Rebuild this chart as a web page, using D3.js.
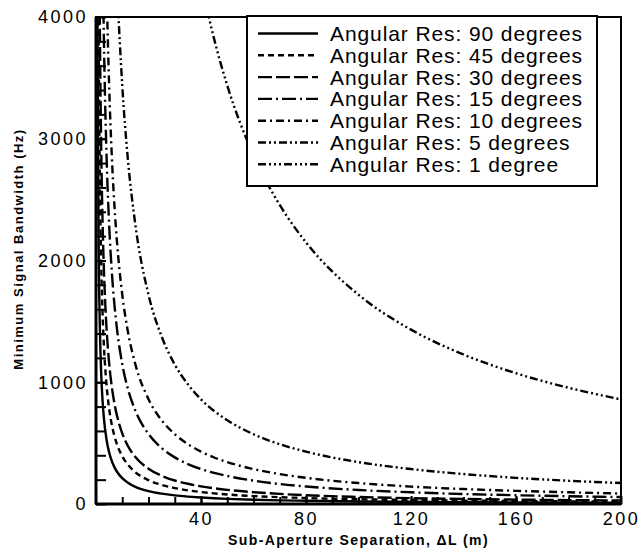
<!DOCTYPE html>
<html lang="en">

<head>
    <meta charset="UTF-8">
    <title>Minimum Signal Bandwidth vs Sub-Aperture Separation</title>
    <script src="https://d3js.org/d3.v7.min.js"></script>
    <style>
        * {
            margin: 0;
            padding: 0;
        }

        body {
            background: #fff;
        }

        svg text {
            font-family: "Liberation Sans", Arial, Helvetica, sans-serif;
        }
    </style>
</head>

<body>
    <script>
        // data (Hz), one array per angular resolution
        var separation = [0.5, 1, 1.25, 1.5, 2, 2.5, 3, 4, 5, 6, 7, 8, 10, 12, 15, 20, 25, 30, 35, 40, 45, 50, 60, 70, 80, 100, 120, 140, 160, 180, 200];
        var labels = ['Angular Res: 90 degrees', 'Angular Res: 45 degrees', 'Angular Res: 30 degrees', 'Angular Res: 15 degrees',
            'Angular Res: 10 degrees', 'Angular Res: 5 degrees', 'Angular Res: 1 degree'];
        var res90 = [4242, 2121, 1697, 1414, 1061, 848, 707, 530, 424, 354, 303, 265, 212, 177, 141, 106, 85, 71, 61, 53, 47, 42, 35, 30, 27, 21, 18, 15, 13, 12, 11];
        var res45 = [7840, 3920, 3136, 2613, 1960, 1568, 1307, 980, 784, 653, 560, 490, 392, 327, 261, 196, 157, 131, 112, 98, 87, 78, 65, 56, 49, 39, 33, 28, 25, 22, 20];
        var res30 = [11592, 5796, 4637, 3864, 2898, 2318, 1932, 1449, 1159, 966, 828, 725, 580, 483, 386, 290, 232, 193, 166, 145, 129, 116, 97, 83, 72, 58, 48, 41, 36, 32, 29];
        var res15 = [22984, 11492, 9194, 7661, 5746, 4597, 3831, 2873, 2298, 1915, 1642, 1437, 1149, 958, 766, 575, 460, 383, 328, 287, 255, 230, 192, 164, 144, 115, 96, 82, 72, 64, 57];
        var res10 = [34420, 17210, 13768, 11473, 8605, 6884, 5737, 4303, 3442, 2868, 2459, 2151, 1721, 1434, 1147, 861, 688, 574, 492, 430, 382, 344, 287, 246, 215, 172, 143, 123, 108, 96, 86];
        var res5 = [68778, 34389, 27511, 22926, 17195, 13756, 11463, 8597, 6878, 5732, 4913, 4299, 3439, 2866, 2293, 1719, 1376, 1146, 983, 860, 764, 688, 573, 491, 430, 344, 287, 246, 215, 191, 172];
        var res1 = [343780, 171890, 137512, 114593, 85945, 68756, 57297, 42973, 34378, 28648, 24556, 21486, 17189, 14324, 11459, 8595, 6876, 5730, 4911, 4297, 3820, 3438, 2865, 2456, 2149, 1719, 1432, 1228, 1074, 955, 859];
        var series = [res90, res45, res30, res15, res10, res5, res1];
        var xTicks = [40, 80, 120, 160, 200];
        var yTicks = [0, 1000, 2000, 3000, 4000];

        // dash pattern for each curve
        var dashes = ['none', '6,4', '14,4', '14,4,2,4', '8,4,2,4', '8,3,2,3,2,3', '8,3,2,3,2,3,2,3'];

        var width = 640;
        var height = 554;
        var margin = { top: 17, right: 19, bottom: 50, left: 96 };
        var plotW = width - margin.left - margin.right;
        var plotH = height - margin.top - margin.bottom;

        var svg = d3.select('body')
            .append('svg')
            .attr('width', width)
            .attr('height', height);

        var g = svg.append('g')
            .attr('transform', 'translate(' + margin.left + ',' + margin.top + ')');

        // scales
        var xScale = d3.scaleLinear()
            .domain([0, 200])
            .range([0, plotW]);
        var yScale = d3.scaleLinear()
            .domain([0, 4000])
            .range([plotH, 0]);

        // clip so the curves stop at the frame
        g.append('clipPath')
            .attr('id', 'plotClip')
            .append('rect')
            .attr('width', plotW)
            .attr('height', plotH);

        var line = d3.line()
            .x(function (d, i) { return xScale(separation[i]); })
            .y(function (d) { return yScale(d); })
            .curve(d3.curveMonotoneX);

        g.append('g')
            .attr('clip-path', 'url(#plotClip)')
            .selectAll('path')
            .data(series)
            .enter()
            .append('path')
            .attr('d', function (d) { return line(d); })
            .attr('fill', 'none')
            .attr('stroke', '#000')
            .attr('stroke-width', 2.4)
            .attr('stroke-dasharray', function (d, i) { return dashes[i]; });

        // minor ticks, pointing inward
        var xMinor = d3.axisBottom(xScale)
            .tickValues(d3.range(10, 200, 10))
            .tickSize(-7)
            .tickFormat('');
        var yMinor = d3.axisLeft(yScale)
            .tickValues(d3.range(200, 4000, 200))
            .tickSize(-10)
            .tickFormat('');

        g.append('g')
            .attr('class', 'xminor')
            .attr('transform', 'translate(0,' + plotH + ')')
            .call(xMinor);
        g.append('g')
            .attr('class', 'yminor')
            .call(yMinor);

        // major axes with labels
        var xAxis = d3.axisBottom(xScale)
            .tickValues(xTicks)
            .tickSize(-8)
            .tickPadding(8)
            .tickFormat(d3.format('d'));
        var yAxis = d3.axisLeft(yScale)
            .tickValues(yTicks)
            .tickSize(-10)
            .tickPadding(10)
            .tickFormat(d3.format('d'));

        g.append('g')
            .attr('class', 'xaxis')
            .attr('transform', 'translate(0,' + plotH + ')')
            .call(xAxis);
        g.append('g')
            .attr('class', 'yaxis')
            .call(yAxis);

        g.selectAll('.domain').remove();
        g.selectAll('.tick line')
            .attr('stroke', '#000')
            .attr('stroke-width', 2);
        g.selectAll('.xaxis text, .yaxis text')
            .style('font-size', '18px')
            .style('letter-spacing', '2.5px')
            .attr('fill', '#000');
        g.selectAll('.yaxis text')
            .attr('dx', '2px');

        // frame
        g.append('rect')
            .attr('width', plotW)
            .attr('height', plotH)
            .attr('fill', 'none')
            .attr('stroke', '#000')
            .attr('stroke-width', 2);
        g.append('line')
            .attr('x1', 0).attr('x2', 0)
            .attr('y1', 0).attr('y2', plotH)
            .attr('stroke', '#000')
            .attr('stroke-width', 3);
        g.append('line')
            .attr('x1', 0).attr('x2', plotW)
            .attr('y1', plotH).attr('y2', plotH)
            .attr('stroke', '#000')
            .attr('stroke-width', 3);

        // axis titles
        svg.append('text')
            .attr('x', margin.left + plotW / 2)
            .attr('y', 545)
            .attr('text-anchor', 'middle')
            .style('font-size', '14px')
            .style('font-weight', 'bold')
            .style('letter-spacing', '1.4px')
            .text('Sub-Aperture Separation, \u0394L (m)');

        svg.append('text')
            .attr('transform', 'translate(23,249) rotate(-90)')
            .attr('text-anchor', 'middle')
            .style('font-size', '13px')
            .style('font-weight', 'bold')
            .style('letter-spacing', '1.5px')
            .text('Minimum Signal Bandwidth (Hz)');

        // legend
        var legend = svg.append('g')
            .attr('transform', 'translate(247,16)');

        legend.append('rect')
            .attr('width', 350)
            .attr('height', 170)
            .attr('fill', '#fff')
            .attr('stroke', '#000')
            .attr('stroke-width', 2);

        var rows = legend.selectAll('.row')
            .data(labels)
            .enter()
            .append('g')
            .attr('class', 'row')
            .attr('transform', function (d, i) {
                return 'translate(0,' + (17.5 + i * 21.8) + ')';
            });

        rows.append('line')
            .attr('x1', 11)
            .attr('x2', 71)
            .attr('stroke', '#000')
            .attr('stroke-width', 2.4)
            .attr('stroke-dasharray', function (d, i) { return dashes[i]; });

        rows.append('text')
            .attr('x', 83)
            .attr('y', 7.5)
            .style('font-size', '21px')
            .style('letter-spacing', '0.9px')
            .text(function (d) { return d; });
    </script>
</body>

</html>
